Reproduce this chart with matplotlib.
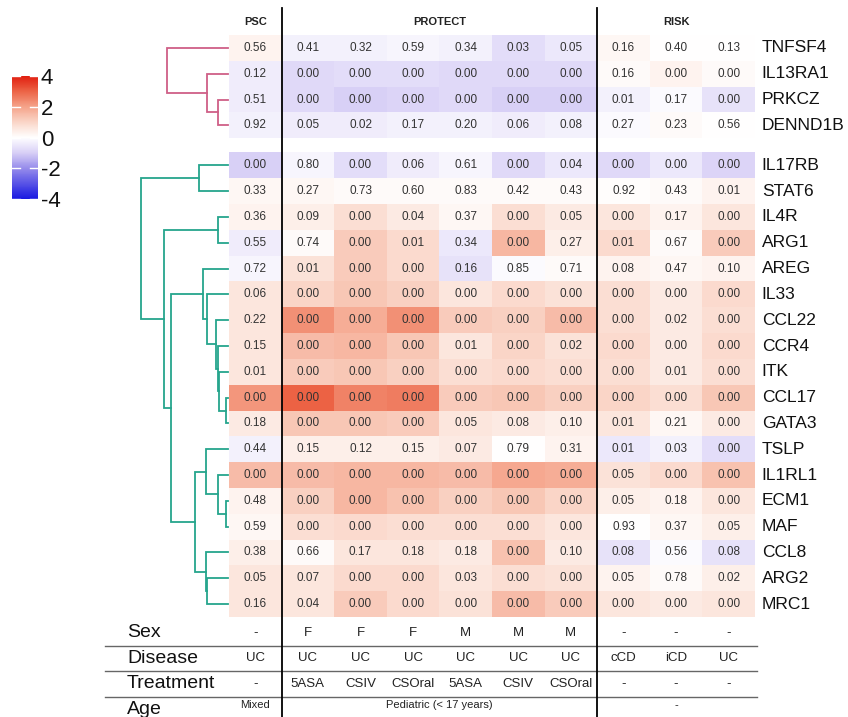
import numpy as np
import matplotlib
matplotlib.use("Agg")
import matplotlib.pyplot as plt
from matplotlib.colors import LinearSegmentedColormap, Normalize
from matplotlib.cm import ScalarMappable
from matplotlib.lines import Line2D
from matplotlib.transforms import blended_transform_factory

plt.rcParams['font.family'] = ['Liberation Sans', 'DejaVu Sans']

# ---------------- data ----------------
genes = ["TNFSF4", "IL13RA1", "PRKCZ", "DENND1B", "IL17RB", "STAT6", "IL4R", "ARG1",
         "AREG", "IL33", "CCL22", "CCR4", "ITK", "CCL17", "GATA3", "TSLP", "IL1RL1",
         "ECM1", "MAF", "CCL8", "ARG2", "MRC1"]
groups = ["PSC", "PROTECT", "RISK"]
group_cols = [(0, 1), (1, 7), (7, 10)]

# p-values printed in the cells
pvals = [
    [0.56, 0.41, 0.32, 0.59, 0.34, 0.03, 0.05, 0.16, 0.40, 0.13],
    [0.12, 0.00, 0.00, 0.00, 0.00, 0.00, 0.00, 0.16, 0.00, 0.00],
    [0.51, 0.00, 0.00, 0.00, 0.00, 0.00, 0.00, 0.01, 0.17, 0.00],
    [0.92, 0.05, 0.02, 0.17, 0.20, 0.06, 0.08, 0.27, 0.23, 0.56],
    [0.00, 0.80, 0.00, 0.06, 0.61, 0.00, 0.04, 0.00, 0.00, 0.00],
    [0.33, 0.27, 0.73, 0.60, 0.83, 0.42, 0.43, 0.92, 0.43, 0.01],
    [0.36, 0.09, 0.00, 0.04, 0.37, 0.00, 0.05, 0.00, 0.17, 0.00],
    [0.55, 0.74, 0.00, 0.01, 0.34, 0.00, 0.27, 0.01, 0.67, 0.00],
    [0.72, 0.01, 0.00, 0.00, 0.16, 0.85, 0.71, 0.08, 0.47, 0.10],
    [0.06, 0.00, 0.00, 0.00, 0.00, 0.00, 0.00, 0.00, 0.00, 0.00],
    [0.22, 0.00, 0.00, 0.00, 0.00, 0.00, 0.00, 0.00, 0.02, 0.00],
    [0.15, 0.00, 0.00, 0.00, 0.01, 0.00, 0.02, 0.00, 0.00, 0.00],
    [0.01, 0.00, 0.00, 0.00, 0.00, 0.00, 0.00, 0.00, 0.01, 0.00],
    [0.00, 0.00, 0.00, 0.00, 0.00, 0.00, 0.00, 0.00, 0.00, 0.00],
    [0.18, 0.00, 0.00, 0.00, 0.05, 0.08, 0.10, 0.01, 0.21, 0.00],
    [0.44, 0.15, 0.12, 0.15, 0.07, 0.79, 0.31, 0.01, 0.03, 0.00],
    [0.00, 0.00, 0.00, 0.00, 0.00, 0.00, 0.00, 0.05, 0.00, 0.00],
    [0.48, 0.00, 0.00, 0.00, 0.00, 0.00, 0.00, 0.05, 0.18, 0.00],
    [0.59, 0.00, 0.00, 0.00, 0.00, 0.00, 0.00, 0.93, 0.37, 0.05],
    [0.38, 0.66, 0.17, 0.18, 0.18, 0.00, 0.10, 0.08, 0.56, 0.08],
    [0.05, 0.07, 0.00, 0.00, 0.03, 0.00, 0.00, 0.05, 0.78, 0.02],
    [0.16, 0.04, 0.00, 0.00, 0.00, 0.00, 0.00, 0.00, 0.00, 0.00],
]

# colour values (effect size)
effects = [
    [0.3, -0.3, -0.3, -0.2, -0.3, -0.7, -0.5, 0.2, 0.0, 0.0],
    [-0.4, -0.8, -0.7, -0.7, -0.8, -0.8, -0.8, 0.1, 0.3, 0.1],
    [-0.4, -0.8, -1.0, -0.9, -0.8, -1.0, -1.0, -0.3, -0.1, -0.6],
    [-0.3, -0.4, -0.4, -0.3, -0.3, -0.4, -0.3, -0.1, 0.1, 0.0],
    [-1.0, -0.2, -0.7, -0.4, -0.2, -0.8, -0.5, -0.8, -0.5, -0.9],
    [0.2, 0.2, 0.1, 0.1, 0.1, 0.1, 0.1, 0.05, 0.1, 0.3],
    [0.3, 0.4, 0.8, 0.5, 0.2, 0.8, 0.5, 0.6, 0.3, 0.6],
    [-0.4, 0.1, 1.2, 0.9, -0.5, 1.6, 0.4, 0.9, 0.1, 1.2],
    [-0.2, 0.7, 1.2, 0.9, -0.6, -0.1, 0.1, 0.3, 0.2, 0.3],
    [0.6, 1.0, 1.3, 1.1, 0.6, 0.9, 0.7, 0.8, 0.5, 0.9],
    [0.6, 2.3, 1.8, 2.3, 1.2, 1.1, 1.5, 0.8, 0.5, 0.8],
    [0.6, 1.5, 1.6, 1.3, 0.6, 1.0, 0.7, 0.9, 0.5, 0.9],
    [0.6, 1.2, 1.3, 1.1, 0.8, 0.9, 0.8, 0.8, 0.5, 0.8],
    [2.2, 3.0, 2.5, 2.6, 1.2, 1.3, 1.1, 1.0, 0.8, 1.3],
    [0.5, 1.3, 1.3, 1.2, 0.6, 0.5, 0.4, 0.6, 0.2, 0.5],
    [-0.3, 0.4, 0.4, 0.4, 0.5, 0.0, 0.3, -0.5, -0.3, -0.7],
    [1.5, 1.5, 1.6, 1.6, 1.5, 1.9, 1.8, 0.7, 0.9, 1.4],
    [0.3, 1.1, 1.6, 1.4, 1.1, 1.3, 1.0, 0.4, 0.3, 0.6],
    [0.2, 0.8, 0.9, 0.8, 0.8, 0.8, 0.6, 0.0, 0.2, 0.4],
    [0.4, 0.1, 0.6, 0.6, 0.5, 1.4, 0.5, -0.6, -0.1, -0.6],
    [0.6, 0.6, 0.9, 0.9, 0.6, 0.8, 0.7, 0.3, 0.1, 0.4],
    [0.6, 0.6, 1.2, 0.9, 0.7, 1.5, 1.2, 0.6, 0.5, 0.6],
]

# dendrogram merges: (left, right, height); nodes >= 22 refer to earlier merges
merges = [
    (2, 3, 11), (1, 22, 22), (0, 23, 62),
    (4, 5, 30), (6, 7, 11), (13, 14, 3), (12, 27, 10), (11, 28, 11), (10, 29, 13),
    (9, 30, 22), (8, 31, 26), (17, 18, 3), (16, 33, 11), (15, 34, 23), (20, 21, 22),
    (19, 36, 23), (35, 37, 34), (32, 38, 58), (26, 39, 65), (25, 40, 88),
]
merge_clusters = [0, 0, 0] + [1] * 17
cluster_colors = ["#CF5F87", "#25A58C"]

annot_rows = ["Sex", "Disease", "Treatment", "Age"]
sex = ["-", "F", "F", "F", "M", "M", "M", "-", "-", "-"]
disease = ["UC", "UC", "UC", "UC", "UC", "UC", "UC", "cCD", "iCD", "UC"]
treatment = ["-", "5ASA", "CSIV", "CSOral", "5ASA", "CSIV", "CSOral", "-", "-", "-"]
age = ["Mixed", "Pediatric (< 17 years)", "-"]

cbar_ticks = [-4, -2, 0, 2, 4]

# ---------------- layout ----------------
W, H = 848, 717
fig = plt.figure(figsize=(W / 100, H / 100), dpi=100)


def add_px(x0, y0, x1, y1):
    return fig.add_axes([x0 / W, 1 - y1 / H, (x1 - x0) / W, (y1 - y0) / H])


cmap = LinearSegmentedColormap.from_list("bwr_custom", [
    (0.0, (25/255, 25/255, 225/255)),
    (0.25, (150/255, 140/255, 235/255)),
    (0.375, (216/255, 207/255, 246/255)),
    (0.5, (1, 1, 1)),
    (0.625, (250/255, 214/255, 200/255)),
    (0.75, (245/255, 163/255, 138/255)),
    (0.875, (236/255, 100/255, 70/255)),
    (1.0, (225/255, 30/255, 15/255)),
])
norm = Normalize(-4, 4)

GAP = 0.55
nrow = len(genes)
ncol = len(pvals[0])


def rowy(i):
    return i + 0.5 + (GAP if i >= 4 else 0)


# heatmap
ax = add_px(229, 35, 755, 617)
ax.set_xlim(0, ncol)
ax.set_ylim(nrow + GAP, 0)
ax.axis("off")
eff = np.array(effects)
xe = np.arange(ncol + 1)
ax.pcolormesh(xe, np.arange(5), eff[:4], cmap=cmap, norm=norm)
ax.pcolormesh(xe, np.arange(4, nrow + 1) + GAP, eff[4:], cmap=cmap, norm=norm)
for i in range(nrow):
    for j in range(ncol):
        ax.text(j + 0.5, rowy(i), f"{pvals[i][j]:.2f}", ha="center", va="center",
                fontsize=8.5, color="#333333")
    ax.text(ncol + 0.13, rowy(i), genes[i], ha="left", va="center", fontsize=12.5,
            color="#111111", clip_on=False)
for g, (a, b) in zip(groups, group_cols):
    ax.text((a + b) / 2, -0.5, g, ha="center", va="center", fontsize=8,
            fontweight="bold", color="#222222", clip_on=False)

# separators
trans = blended_transform_factory(ax.transData, fig.transFigure)
for xv in [group_cols[0][1], group_cols[1][1]]:
    fig.add_artist(Line2D([xv, xv], [0, 1 - 8 / H], transform=trans,
                          color="black", lw=1.3))

# dendrogram
dax = add_px(100, 35, 229, 617)
dax.set_xlim(129, 0)
dax.set_ylim(nrow + GAP, 0)
dax.axis("off")
pos = {i: (1.5, rowy(i)) for i in range(nrow)}
for k, (a, b, h) in enumerate(merges):
    ha_, ya = pos[a]
    hb_, yb = pos[b]
    col = cluster_colors[merge_clusters[k]]
    dax.plot([ha_, h, h, hb_], [ya, ya, yb, yb], color=col, lw=1.3,
             solid_joinstyle="miter")
    pos[nrow + k] = (h, (ya + yb) / 2)

# annotation table
tab = add_px(229, 620, 755, 722)
tab.set_xlim(0, ncol)
tab.set_ylim(4, 0)
tab.axis("off")
x_lab = (127 - 229) / 52.6
for r, lab in enumerate(annot_rows):
    tab.text(x_lab, r + 0.5, lab, ha="left", va="center", fontsize=14,
             color="#111111", clip_on=False)
for r, vals in enumerate([sex, disease, treatment]):
    for j, v in enumerate(vals):
        tab.text(j + 0.5, r + 0.5, v, ha="center", va="center", fontsize=9.5,
                 color="#222222", clip_on=False)
for (a, b), v in zip(group_cols, age):
    tab.text((a + b) / 2, 3.35, v, ha="center", va="center", fontsize=8,
             color="#222222", clip_on=False)
for r in [1, 2, 3]:
    tab.plot([(105 - 229) / 52.6, ncol + 0.04], [r, r], color="#666666", lw=1,
             clip_on=False)

# colour bar
cax = add_px(12, 76, 38, 199)
cb = fig.colorbar(ScalarMappable(norm=norm, cmap=cmap), cax=cax, ticks=cbar_ticks)
cb.outline.set_visible(False)
cb.ax.set_yticklabels([str(t) for t in cbar_ticks])
cax.tick_params(length=0, labelsize=16, pad=2, colors="#111111")
bt = blended_transform_factory(cax.transAxes, cax.transData)
for t in cbar_ticks:
    cax.plot([0, 0.3], [t, t], color="white", lw=1, transform=bt)
    cax.plot([0.7, 1], [t, t], color="white", lw=1, transform=bt)

fig.savefig("out.png", dpi=100)
